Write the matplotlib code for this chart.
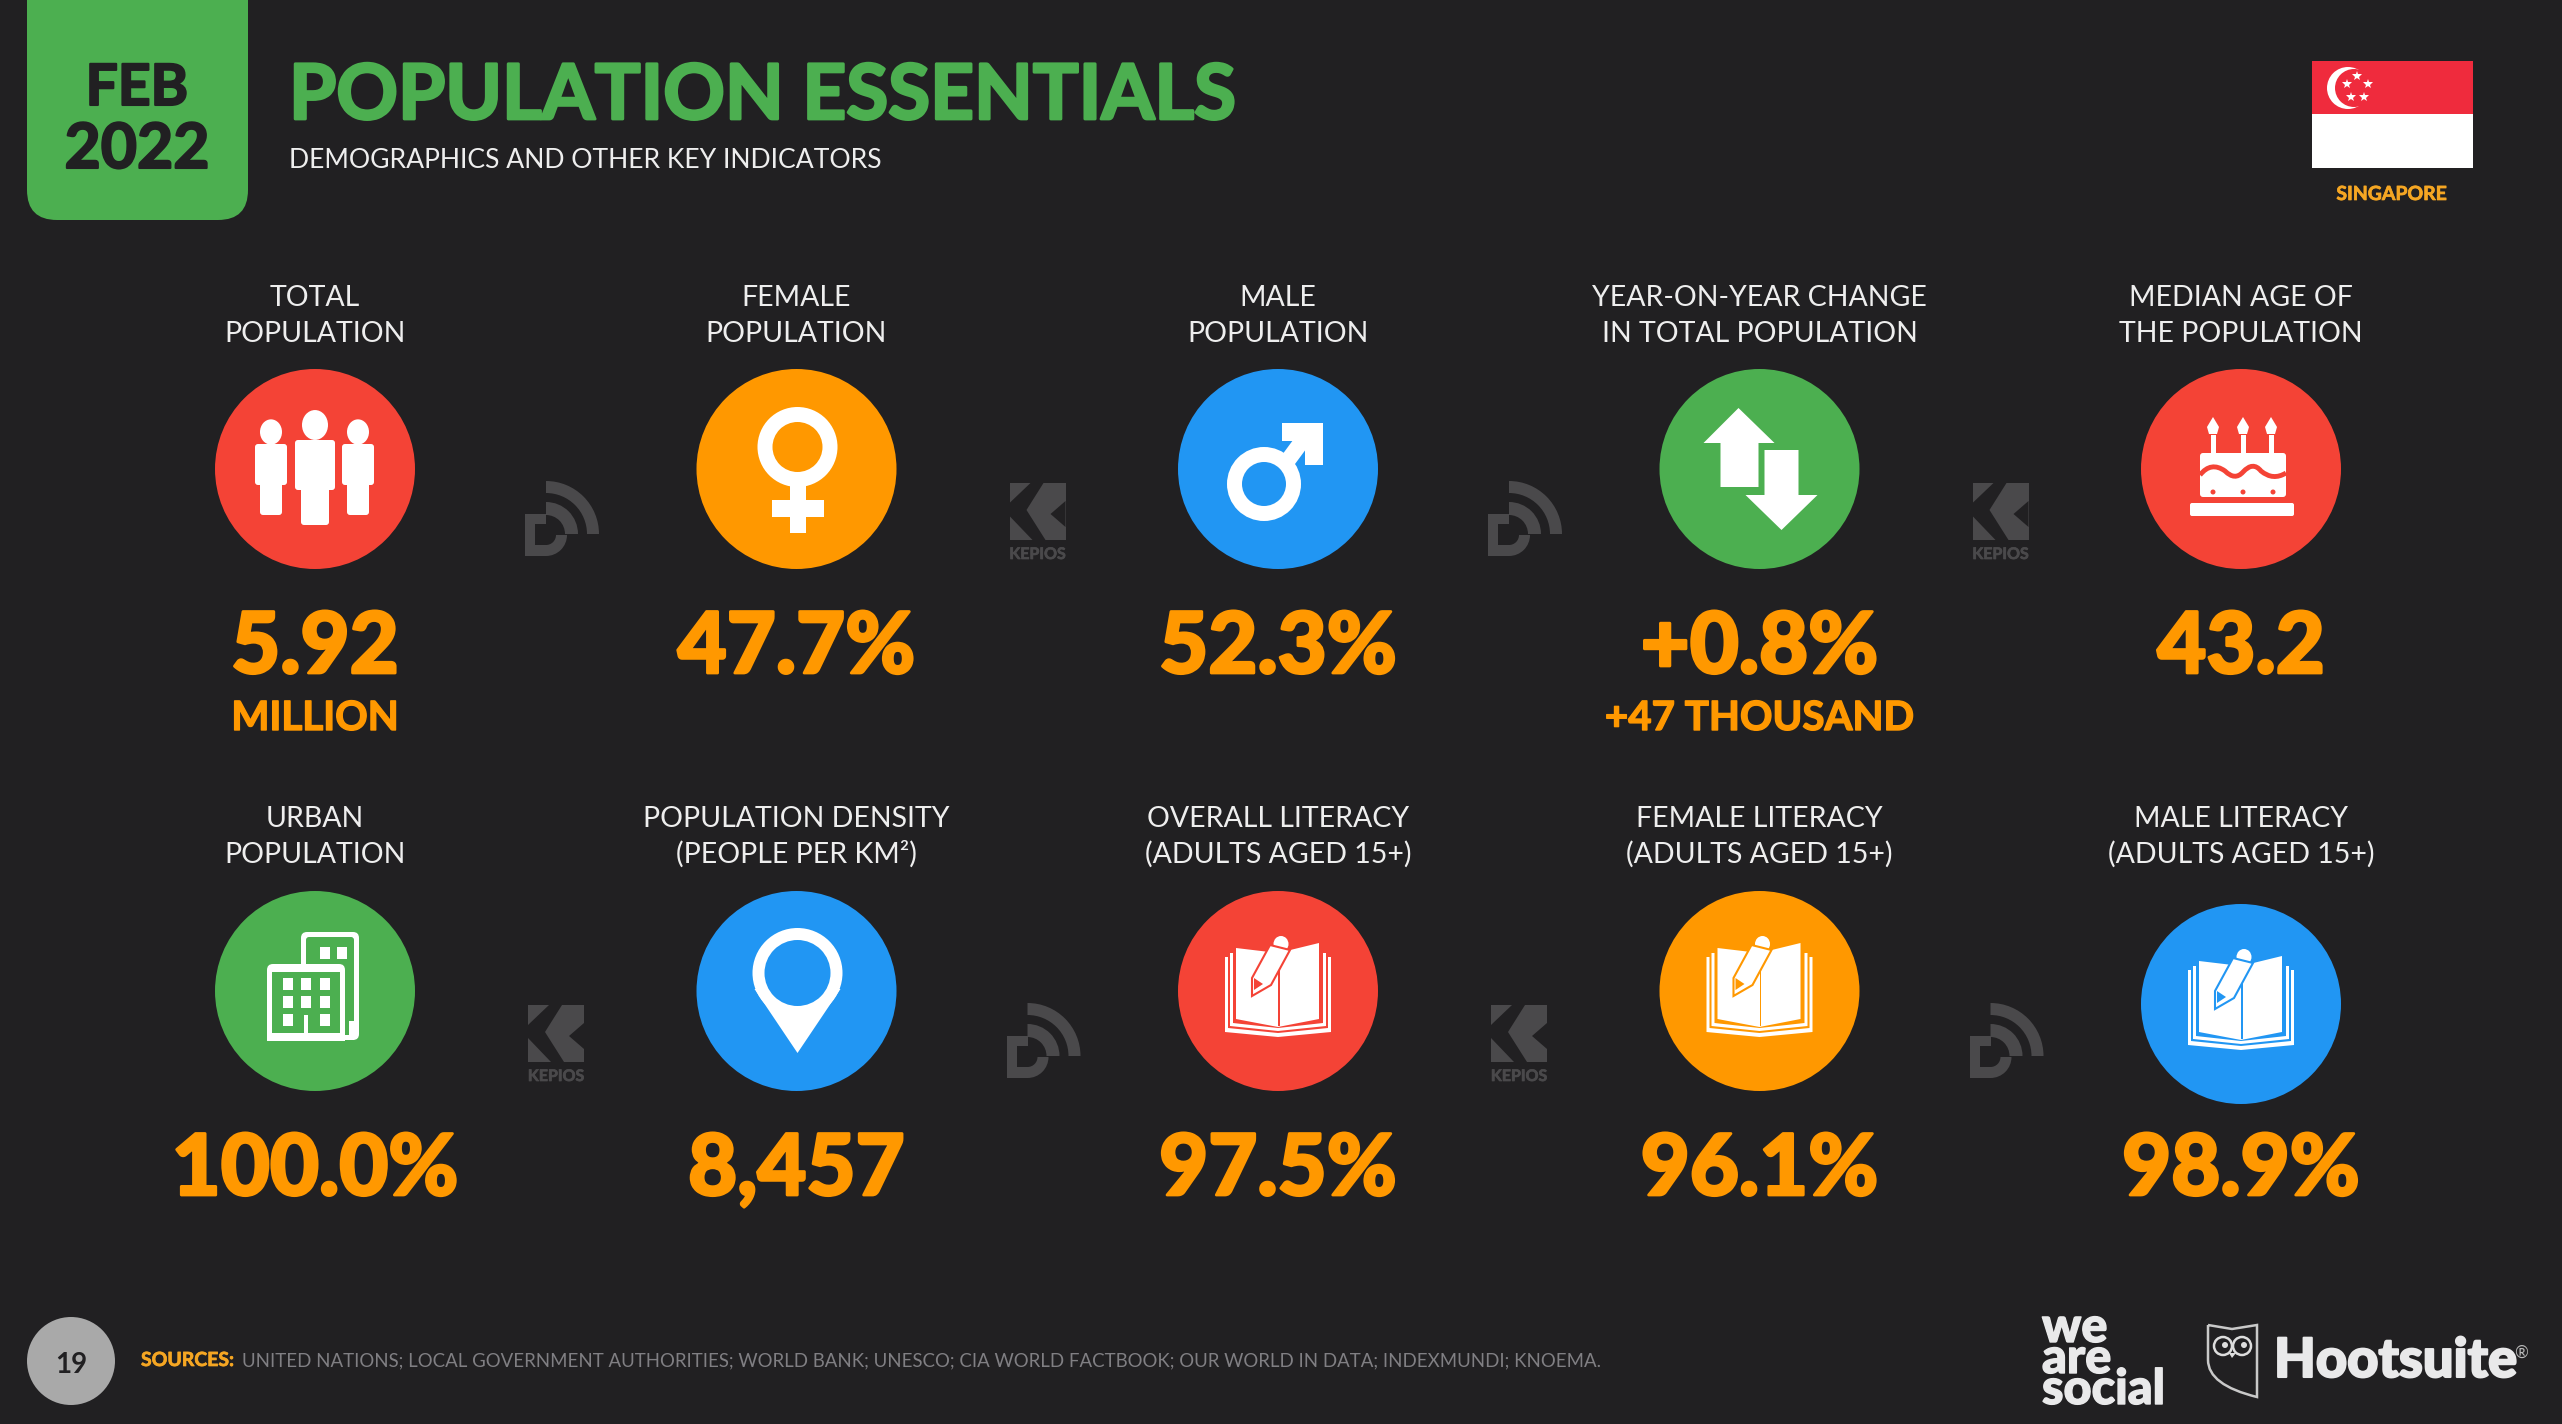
import matplotlib
matplotlib.use("Agg")
import matplotlib.pyplot as plt
import matplotlib.patheffects as pe
from matplotlib.patches import Circle, Ellipse, Wedge, Polygon, Rectangle, FancyBboxPatch, PathPatch
from matplotlib.path import Path

# Du lieu
top_labels = ["TOTAL\nPOPULATION", "FEMALE\nPOPULATION", "MALE\nPOPULATION",
              "YEAR-ON-YEAR CHANGE\nIN TOTAL POPULATION", "MEDIAN AGE OF\nTHE POPULATION"]
top_values = ["5.92", "47.7%", "52.3%", "+0.8%", "43.2"]
top_subs = ["MILLION", "", "", "+47 THOUSAND", ""]
bottom_labels = ["URBAN\nPOPULATION", "POPULATION DENSITY\n(PEOPLE PER KM²)", "OVERALL LITERACY\n(ADULTS AGED 15+)",
                 "FEMALE LITERACY\n(ADULTS AGED 15+)", "MALE LITERACY\n(ADULTS AGED 15+)"]
bottom_values = ["100.0%", "8,457", "97.5%", "96.1%", "98.9%"]
sources = "UNITED NATIONS; LOCAL GOVERNMENT AUTHORITIES; WORLD BANK; UNESCO; CIA WORLD FACTBOOK; OUR WORLD IN DATA; INDEXMUNDI; KNOEMA."

BG = "#212022"
RED = "#f44336"
ORANGE = "#ff9800"
BLUE = "#2196f3"
GREEN = "#4caf50"
WHITE = "#ffffff"
LABEL = "#eeeeee"
LOGO = "#4a494b"
FONT = "Lato"

plt.rcParams["font.family"] = [FONT, "DejaVu Sans"]

fig = plt.figure(figsize=(25.62, 14.24), dpi=100, facecolor=BG)
ax = fig.add_axes([0, 0, 1, 1])
ax.set_xlim(0, 2562)
ax.set_ylim(1424, 0)
ax.axis("off")

col_x = [315 + 481.5 * i for i in range(5)]
top_y = 469
bottom_y = [991, 991, 991, 991, 1004]


def poly(points, color, ox=0, oy=0, **kw):
    ax.add_patch(Polygon([(ox + a, oy + b) for a, b in points], closed=True, fc=color, ec="none", **kw))


def rect(x0, y0, x1, y1, color):
    ax.add_patch(Rectangle((x0, y0), x1 - x0, y1 - y0, fc=color, ec="none"))


def disc(x, y, r, color):
    ax.add_patch(Circle((x, y), r, fc=color, ec="none"))


def rounded(x0, y0, x1, y1, color, r=6):
    ax.add_patch(FancyBboxPatch((x0 + r, y0 + r), x1 - x0 - 2 * r, y1 - y0 - 2 * r,
                                boxstyle="round,pad=%d,rounding_size=%d" % (r, r), fc=color, ec="none"))


def label(x, y, s, size, color=WHITE, weight="normal", ha="center", stroke=0):
    t = ax.text(x, y, s, fontsize=size, color=color, fontweight=weight, ha=ha, va="baseline",
                family=[FONT, "DejaVu Sans"])
    if stroke:
        # lam dam chu cho giong font goc
        t.set_path_effects([pe.withStroke(linewidth=stroke, foreground=color)])


def person(x, y, head, head_r, bw, bt, bb, lw, lb):
    ax.add_patch(Ellipse((x, y + head), head_r * 2, head_r * 2.3, fc=WHITE, ec="none"))
    rounded(x - bw, y + bt, x + bw, y + bb, WHITE, 3)
    rounded(x - lw, y + bb - 6, x + lw, y + lb, WHITE, 3)


def icon_people(x, y):
    person(x - 44, y, -37, 11, 16, -25, 16, 11, 46)
    person(x + 43, y, -37, 11, 16, -25, 16, 11, 46)
    person(x, y, -44, 13, 20, -29, 21, 14, 56)


def icon_female(x, y, col):
    disc(x + 1, y - 22, 40, WHITE)
    disc(x + 1, y - 22, 25, col)
    rect(x - 7, y + 15, x + 9, y + 64, WHITE)
    rect(x - 25, y + 31, x + 27, y + 48, WHITE)


def icon_male(x, y, col):
    poly([(-13, 9), (21, -37), (34, -28), (0, 18)], WHITE, x, y)
    poly([(4, -46), (45, -46), (45, -4), (27, -4), (27, -28), (4, -28)], WHITE, x, y)
    disc(x - 14, y + 15, 37, WHITE)
    disc(x - 14, y + 15, 22, col)


def icon_arrows(x, y):
    poly([(-21, -61), (15, -26), (-1, -26), (-1, 18), (-39, 18), (-39, -26), (-56, -26)], WHITE, x, y)
    poly([(5, -19), (39, -19), (39, 26), (58, 26), (22, 61), (-14, 26), (5, 26)], WHITE, x, y)


def icon_cake(x, y, col):
    for dx in (-28, 2, 30):
        rect(x + dx - 2.5, y - 34, x + dx + 2.5, y - 16, WHITE)
        poly([(0, -52), (6, -42), (4, -35), (-4, -35), (-6, -42)], WHITE, x + dx, y)
    rounded(x - 41, y - 16, x + 45, y + 28, WHITE, 3)
    verts = [(x - 41, y + 6), (x - 30, y - 8), (x - 16, y + 2), (x - 6, y + 12), (x + 2, y + 3),
             (x + 12, y - 8), (x + 20, y + 2), (x + 32, y + 12), (x + 45, y + 4)]
    codes = [Path.MOVETO] + [Path.CURVE3] * 8
    ax.add_patch(PathPatch(Path(verts, codes), fc="none", ec=col, lw=3.5))
    for dx in (-28, 2, 32):
        disc(x + dx, y + 23, 2.5, col)
    rounded(x - 51, y + 34, x + 53, y + 47, WHITE, 2)


def icon_building(x, y, col):
    rounded(x - 14, y - 59, x + 44, y + 49, WHITE, 6)
    rounded(x - 9, y - 54, x + 39, y + 44, col, 3)
    for dx in (10, 27):
        rect(x + dx - 5, y - 44, x + dx + 5, y - 32, WHITE)
    rect(x + 34, y + 30, x + 39, y + 49, WHITE)
    rounded(x - 48, y - 27, x + 30, y + 50, WHITE, 6)
    rect(x - 43, y - 19, x + 25, y + 42, col)
    for wy in (-7, 11, 29):
        for dx in (-27, -9, 10):
            if wy == 29 and dx == -9:
                continue
            rect(x + dx - 5, y + wy - 6, x + dx + 5, y + wy + 6, WHITE)
    rect(x - 48, y + 42, x + 30, y + 50, WHITE)
    rect(x - 11, y + 24, x - 7, y + 42, WHITE)


def icon_pin(x, y, col):
    disc(x + 1, y - 18, 45, WHITE)
    poly([(-42, -2), (44, -2), (1, 62)], WHITE, x, y)
    disc(x + 1, y - 18, 33, col)


def icon_book(x, y, col):
    # cac lop trang sach
    for w, top, base, mid, c in [(53, -34, 41, 46, WHITE), (50, -34, 37, 42, col),
                                 (48, -38, 35, 40, WHITE), (45, -38, 32, 37, col)]:
        poly([(-w, top), (w, top), (w, base), (0, mid), (-w, base)], c, x, y)
    poly([(-42, -43), (0, -38), (41, -48), (41, 28), (0, 36), (-42, 28)], WHITE, x, y)
    rect(x, y - 38, x + 1.5, y + 35, col)
    # but chi
    ax.add_patch(Ellipse((x + 3, y - 47), 15, 16, fc=WHITE, ec="none"))
    ax.add_patch(Polygon([(x - 8, y - 46), (x + 12, y - 41), (x - 7, y - 6), (x - 26, y + 5), (x - 26, y - 13)],
                         closed=True, fc=WHITE, ec=col, lw=1.5))
    poly([(-24, -13), (-15, -7), (-24, -1)], col, x, y)


def dr_logo(x, y):
    ax.add_patch(Wedge((x, y), 53, 270, 360, width=12, fc=LOGO, ec="none"))
    ax.add_patch(Wedge((x, y), 32, 270, 360, width=13, fc=LOGO, ec="none"))
    ax.add_patch(Wedge((x, y + 1), 21, 0, 90, width=11, fc=LOGO, ec="none"))
    rect(x - 21, y - 20, x, y - 10, LOGO)
    rect(x - 21, y - 20, x - 11, y + 22, LOGO)
    rect(x - 11, y + 11, x, y + 22, LOGO)


def kepios_logo(x, y):
    rect(x - 28, y - 28, x + 28, y + 29, LOGO)
    poly([(-7, -28), (6, -28), (-11, -1), (8, 29), (-5, 29), (-28, 5), (-28, -8)], BG, x, y)
    poly([(28, -10), (13, 3), (28, 16)], BG, x, y)
    label(x, y + 48, "KEPIOS", 11.5, LOGO, "bold", stroke=0.5)


# Tieu de
ax.add_patch(FancyBboxPatch((57, -60), 161, 250, boxstyle="round,pad=30,rounding_size=30", fc=GREEN, ec="none"))
label(137, 105, "FEB", 41, BG, "bold", stroke=1.5)
label(137, 168, "2022", 45, BG, "bold", stroke=1.5)
label(289, 119, "POPULATION ESSENTIALS", 55, GREEN, "bold", "left", stroke=2)
label(289, 168, "DEMOGRAPHICS AND OTHER KEY INDICATORS", 19.1, LABEL, "normal", "left")

# Co Singapore
rect(2312, 61, 2473, 114, "#ef2b3d")
rect(2312, 114, 2473, 168, WHITE)
disc(2348, 88, 21, WHITE)
disc(2354, 88, 19, "#ef2b3d")
ax.plot([2357, 2368, 2364, 2351, 2347], [76, 84, 97, 97, 84], ls="none", marker="*", ms=7.5, color=WHITE, mew=0)
label(2392, 200, "SINGAPORE", 14, "#f5a623", "bold", stroke=0.5)

# Hang tren
for i, x in enumerate(col_x):
    a, b = top_labels[i].split("\n")
    label(x, 306, a, 20.5, LABEL)
    label(x, 342, b, 20.5, LABEL)
    label(x, 673, top_values[i], 61, ORANGE, "black", stroke=2)
    if top_subs[i]:
        label(x, 730, top_subs[i], 29, ORANGE, "bold", stroke=1)

# Hang duoi
for i, x in enumerate(col_x):
    a, b = bottom_labels[i].split("\n")
    label(x, 827, a, 20.5, LABEL)
    label(x, 863, b, 20.5, LABEL)
    label(x, 1195, bottom_values[i], 61, ORANGE, "black", stroke=2)

# Icon
for x, c in zip(col_x, [RED, ORANGE, BLUE, GREEN, RED]):
    disc(x, top_y, 100, c)
for x, y, c in zip(col_x, bottom_y, [GREEN, BLUE, RED, ORANGE, BLUE]):
    disc(x, y, 100, c)
icon_people(col_x[0], top_y)
icon_female(col_x[1], top_y, ORANGE)
icon_male(col_x[2], top_y, BLUE)
icon_arrows(col_x[3], top_y)
icon_cake(col_x[4], top_y, RED)
icon_building(col_x[0], bottom_y[0], GREEN)
icon_pin(col_x[1], bottom_y[1], BLUE)
icon_book(col_x[2], bottom_y[2], RED)
icon_book(col_x[3], bottom_y[3], ORANGE)
icon_book(col_x[4], bottom_y[4], BLUE)

# Logo giua cac cot
dr_logo(col_x[0] + 231, 534)
kepios_logo(col_x[1] + 241, 511)
dr_logo(col_x[2] + 231, 534)
kepios_logo(col_x[3] + 241, 511)
kepios_logo(col_x[0] + 241, 1033)
dr_logo(col_x[1] + 231, 1056)
kepios_logo(col_x[2] + 241, 1033)
dr_logo(col_x[3] + 231, 1056)

# Chan trang
disc(71, 1361, 44, "#a9a9a9")
label(71, 1373, "19", 20, BG, "bold")
label(141, 1366, "SOURCES:", 14, "#f5a623", "bold", "left", stroke=0.5)
label(242, 1366, sources, 13.45, "#807f83", "normal", "left")

LOGO_TEXT = "#e9e9ea"
label(2042, 1342, "we", 35, LOGO_TEXT, "black", "left", stroke=1)
label(2042, 1373, "are", 35, LOGO_TEXT, "black", "left", stroke=1)
label(2042, 1404, "social", 35, LOGO_TEXT, "black", "left", stroke=1)

owl = [(2208, 1325), (2232, 1329), (2257, 1325), (2257, 1397), (2208, 1385), (2208, 1360), (2208, 1325)]
owl_codes = [Path.MOVETO, Path.LINETO, Path.LINETO, Path.LINETO, Path.CURVE3, Path.CURVE3, Path.LINETO]
ax.add_patch(PathPatch(Path(owl, owl_codes), fc="none", ec="#c9c9c9", lw=1.8))
for ex in (2223, 2242):
    ax.add_patch(Circle((ex, 1346), 9, fc="none", ec="#dddddd", lw=1.8))
    disc(ex + 2, 1345, 3, "#dddddd")
poly([(2229, 1353), (2236, 1353), (2232, 1358)], "#dddddd")
label(2274, 1377, "Hootsuite", 39, LOGO_TEXT, "black", "left", stroke=1.5)
label(2521, 1358, "®", 12, "#bbbbbb", "normal")

fig.savefig("out.png", dpi=100, facecolor=BG)
